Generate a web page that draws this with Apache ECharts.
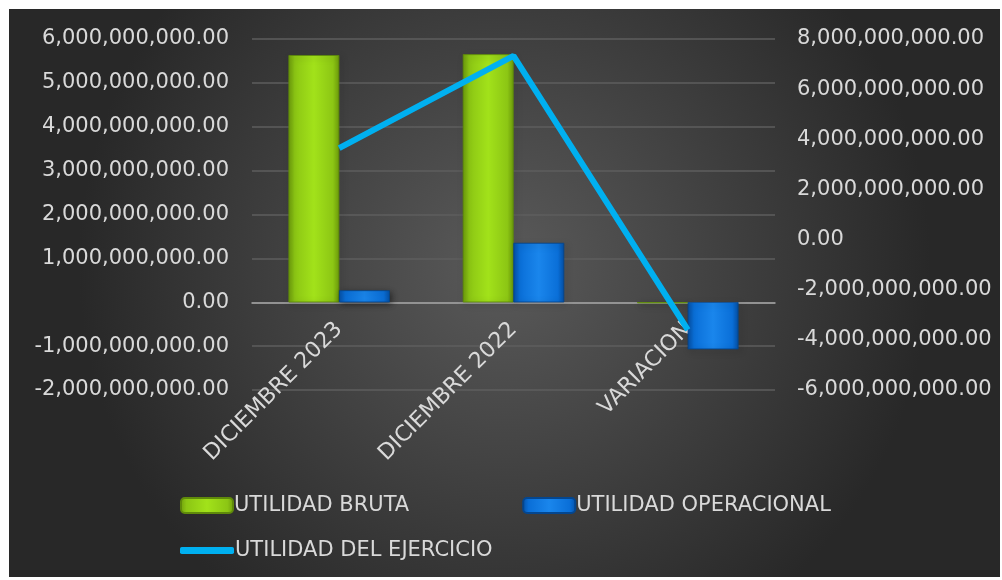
<!DOCTYPE html>
<html>
<head>
<meta charset="utf-8">
<script src="https://cdn.jsdelivr.net/npm/echarts@6/dist/echarts.min.js"></script>
<style>
  html, body { margin: 0; padding: 0; background: #fff; }
  #wrap { position: relative; width: 1002px; height: 580px; background: #fff; }
  #main { position: absolute; left: 9px; top: 9px; width: 991px; height: 568px; }
</style>
</head>
<body>
<div id="wrap"><div id="main"></div></div>
<script>
var categories = ['DICIEMBRE 2023', 'DICIEMBRE 2022', 'VARIACION'];
var utilidadBruta = [5630000000, 5650000000, -20000000];
var utilidadOperacional = [270000000, 1350000000, -1070000000];
var utilidadEjercicio = [3650000000, 7330000000, -3600000000];
var seriesNames = ['UTILIDAD BRUTA', 'UTILIDAD OPERACIONAL', 'UTILIDAD DEL EJERCICIO'];

var txt = '#d9d9d9';
var fontFam = 'DejaVu Sans';
var fs = 21;

function fmt(v) {//formato con comas y 2 decimales
  return v.toLocaleString('en-US', { minimumFractionDigits: 2, maximumFractionDigits: 2 });
}
function bevel(c1, c2, c3) {
  return new echarts.graphic.LinearGradient(0, 0, 1, 0, [
    { offset: 0, color: c3 },
    { offset: 0.12, color: c1 },
    { offset: 0.5, color: c2 },
    { offset: 0.88, color: c1 },
    { offset: 1, color: c3 }
  ]);
}

var chart = echarts.init(document.getElementById('main'));
var option = {
  backgroundColor: new echarts.graphic.RadialGradient(0.5, 0.45, 0.75, [
    { offset: 0, color: '#5a5a5a' },
    { offset: 1, color: '#282828' }
  ]),
  textStyle: { fontFamily: fontFam },
  grid: { left: 243, top: 30, right: 225, height: 351 },
  legend: [{
    data: [seriesNames[0], seriesNames[1]],
    left: 166, top: 481,
    itemWidth: 52, itemHeight: 15, itemGap: 113,
    textStyle: { color: txt, fontSize: fs, fontFamily: fontFam, padding: [0, 0, 0, -4] }
  }, {
    data: [{ name: seriesNames[2], icon: 'roundRect' }],
    left: 166, top: 526,
    itemWidth: 54, itemHeight: 7,
    itemStyle: { color: '#00b0f0' },
    textStyle: { color: txt, fontSize: fs, fontFamily: fontFam, padding: [0, 0, 0, -4] }
  }],
  xAxis: {
    type: 'category',
    data: categories,
    axisLine: { onZero: true, onZeroAxisIndex: 0, lineStyle: { color: '#a6a6a6', width: 1.5 } },
    axisTick: { show: false },
    axisLabel: { rotate: 45, color: txt, fontSize: 22, margin: -64, interval: 0 }
  },
  yAxis: [{
    type: 'value',
    min: -2000000000, max: 6000000000, interval: 1000000000,
    axisLabel: { color: txt, fontSize: fs, margin: 23, formatter: fmt },
    splitLine: { lineStyle: { color: '#5e5e5e', width: 1.5 } },
    axisLine: { show: false }, axisTick: { show: false }
  }, {
    type: 'value',
    min: -6000000000, max: 8000000000, interval: 2000000000,
    axisLabel: { color: txt, fontSize: fs, margin: 22, formatter: fmt },
    splitLine: { show: false },
    axisLine: { show: false }, axisTick: { show: false }
  }],
  series: [{
    name: seriesNames[0],
    type: 'bar',
    data: utilidadBruta,
    barGap: '0%',
    barCategoryGap: '42%',
    itemStyle: {
      color: bevel('#8cc614', '#a2e21a', '#6f9e0c'),
      borderColor: '#5f8a0a', borderWidth: 0.5,
      shadowColor: 'rgba(0,0,0,0.5)', shadowBlur: 6, shadowOffsetX: 2, shadowOffsetY: 2
    }
  }, {
    name: seriesNames[1],
    type: 'bar',
    data: utilidadOperacional,
    itemStyle: {
      color: bevel('#0a6fd8', '#1a86ec', '#0550a6'),
      borderColor: '#04468f', borderWidth: 0.5,
      shadowColor: 'rgba(0,0,0,0.5)', shadowBlur: 6, shadowOffsetX: 2, shadowOffsetY: 2
    }
  }, {
    name: seriesNames[2],
    type: 'line',
    yAxisIndex: 1,
    data: utilidadEjercicio,
    symbol: 'none',
    lineStyle: { color: '#00b0f0', width: 6 },
    itemStyle: { color: '#00b0f0' }
  }]
};
chart.setOption(option);
</script>
</body>
</html>
